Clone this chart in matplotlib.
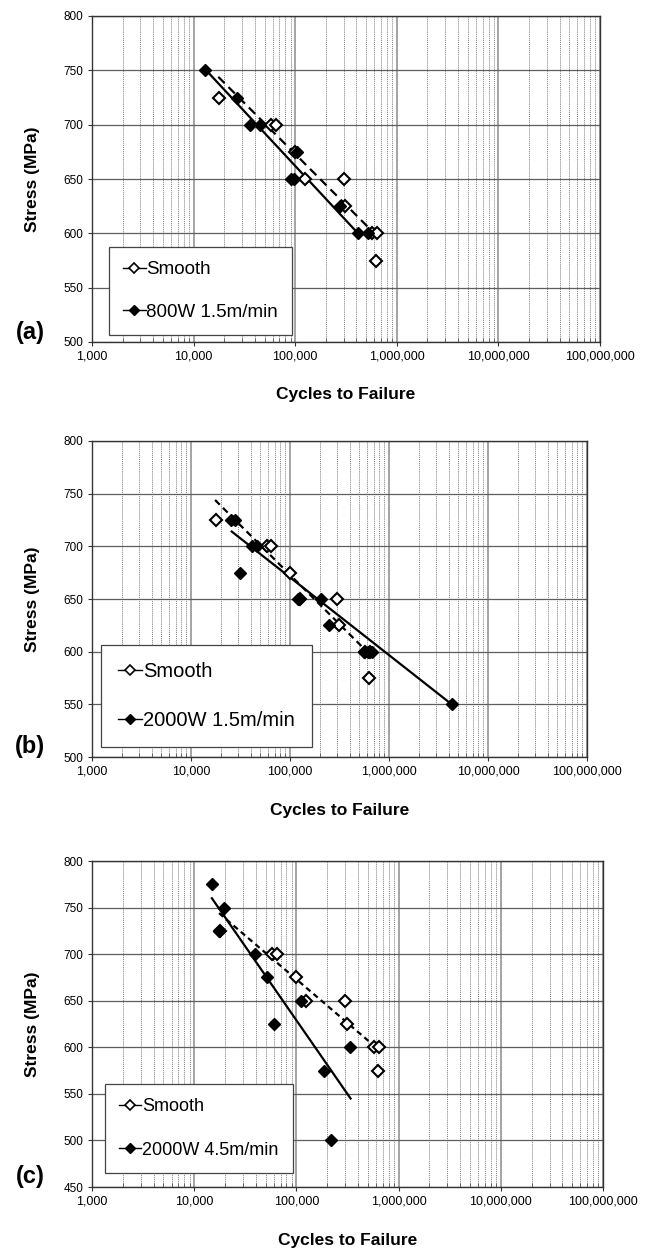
import matplotlib
matplotlib.use("Agg")
import matplotlib.pyplot as plt
from matplotlib.lines import Line2D
from matplotlib.ticker import FuncFormatter, LogLocator, NullFormatter, MultipleLocator

plt.rcParams["font.family"] = ["Liberation Sans", "DejaVu Sans"]

W, H = 646, 1249

# Smooth specimens (same set shown in all three panels)
smooth_cycles = [17700, 58000, 64000, 100000, 125000, 300000, 310000, 570000, 640000, 625000]
smooth_stress = [725, 700, 700, 675, 650, 650, 625, 600, 600, 575]
smooth_fit_cycles = [17500, 600000]
smooth_fit_stress = [744, 600]

# (a) 800W 1.5m/min
a_cycles = [13000, 26700, 36000, 45300, 105000, 90000, 97000, 275000, 415000, 515000]
a_stress = [750, 725, 700, 700, 675, 650, 650, 625, 600, 600]
a_fit_cycles = [13000, 415000]
a_fit_stress = [751, 600]

# (b) 2000W 1.5m/min
b_cycles = [25600, 28000, 31000, 41500, 46500, 120000, 124000, 205000, 245000,
            560000, 610000, 670000, 4300000]
b_stress = [725, 725, 675, 700, 700, 650, 650, 650, 625, 600, 600, 600, 550]
b_fit_cycles = [25800, 4300000]
b_fit_stress = [714, 550]

# (c) 2000W 4.5m/min
c_cycles = [15000, 19600, 17500, 39500, 51000, 60000, 112000, 185000, 217000, 338000]
c_stress = [775, 750, 725, 700, 675, 625, 650, 575, 500, 600]
c_fit_cycles = [14900, 339000]
c_fit_stress = [760, 545]

panels = [
    dict(tag="(a)", box=(92, 16, 600, 342), ymin=500, name="800W 1.5m/min",
         x=a_cycles, y=a_stress, fx=a_fit_cycles, fy=a_fit_stress,
         dash=(4, 2.5), leg=(109, 247), lfs=13.5, lsp=1.35, lpad=0.75),
    dict(tag="(b)", box=(92, 441, 587, 757), ymin=500, name="2000W 1.5m/min",
         x=b_cycles, y=b_stress, fx=b_fit_cycles, fy=b_fit_stress,
         dash=(3, 2), leg=(101, 645), lfs=14.5, lsp=1.5, lpad=0.85),
    dict(tag="(c)", box=(92, 861, 603, 1187), ymin=450, name="2000W 4.5m/min",
         x=c_cycles, y=c_stress, fx=c_fit_cycles, fy=c_fit_stress,
         dash=(2.5, 1.8), leg=(105, 1084), lfs=13, lsp=1.45, lpad=0.8),
]


def fx(px):
    return px / W


def fy(py):
    return 1 - py / H


fig = plt.figure(figsize=(W / 100, H / 100), dpi=100, facecolor="white")

for p in panels:
    l, t, r, b = p["box"]
    ax = fig.add_axes([fx(l), fy(b), (r - l) / W, (b - t) / H])

    ax.set_xscale("log")
    ax.set_xlim(1e3, 1e8)
    ax.set_ylim(p["ymin"], 800)
    ax.xaxis.set_major_locator(LogLocator(base=10, numticks=10))
    ax.xaxis.set_minor_locator(LogLocator(base=10, subs=range(2, 10), numticks=20))
    ax.xaxis.set_minor_formatter(NullFormatter())
    ax.xaxis.set_major_formatter(FuncFormatter(lambda v, _: "{:,.0f}".format(v)))
    ax.yaxis.set_major_locator(MultipleLocator(50))

    ax.grid(which="major", axis="y", color="#5e5e5e", linewidth=0.9)
    ax.grid(which="major", axis="x", color="#8c8c8c", linewidth=1.1)
    ax.grid(which="minor", axis="x", color="#7e7e7e", linewidth=0.7, linestyle=(0, (1, 1)))
    ax.set_axisbelow(True)
    ax.tick_params(which="major", length=3, width=0.8, color="#333333", pad=3)
    ax.tick_params(which="minor", axis="x", direction="in", length=3, width=0.6,
                   color="#555555")
    ax.tick_params(which="minor", axis="y", length=0)
    ax.tick_params(axis="x", which="major", labelsize=9)
    ax.tick_params(axis="y", which="major", labelsize=8.5)
    for s in ax.spines.values():
        s.set_color("#333333")
        s.set_linewidth(1.0)

    # trend lines
    ax.plot(p["fx"], p["fy"], color="black", linewidth=1.6, zorder=2)
    ax.plot(smooth_fit_cycles, smooth_fit_stress, color="black", linewidth=1.6,
            linestyle=(0, p["dash"]), zorder=2)

    # data points
    ax.plot(smooth_cycles, smooth_stress, linestyle="none", marker="D", ms=6.3,
            mfc="white", mec="black", mew=1.5, zorder=3)
    ax.plot(p["x"], p["y"], linestyle="none", marker="D", ms=6.3,
            mfc="black", mec="black", zorder=4)

    handles = [
        Line2D([], [], color="black", linewidth=1, marker="D", ms=5,
               mfc="white", mec="black", mew=1.2),
        Line2D([], [], color="black", linewidth=1, marker="D", ms=5,
               mfc="black", mec="black"),
    ]
    lx, ly = p["leg"]
    leg = ax.legend(handles, ["Smooth", p["name"]], loc="upper left",
                    bbox_to_anchor=(fx(lx), fy(ly)), bbox_transform=fig.transFigure,
                    borderaxespad=0, fontsize=p["lfs"], labelspacing=p["lsp"],
                    borderpad=p["lpad"], handlelength=1.2, handletextpad=0.05,
                    fancybox=False, framealpha=1, edgecolor="#444444")
    leg.get_frame().set_linewidth(0.9)

    fig.text(fx(33), fy((t + b) / 2), "Stress (MPa)", rotation=90, ha="center",
             va="center", fontsize=12.5, fontweight="bold")
    fig.text(fx((l + r) / 2), fy(b + 53), "Cycles to Failure", ha="center",
             va="center", fontsize=12.5, fontweight="bold")
    fig.text(fx(30), fy(b - 10), p["tag"], ha="center", va="center",
             fontsize=17, fontweight="bold")

fig.savefig("out.png", dpi=100)
